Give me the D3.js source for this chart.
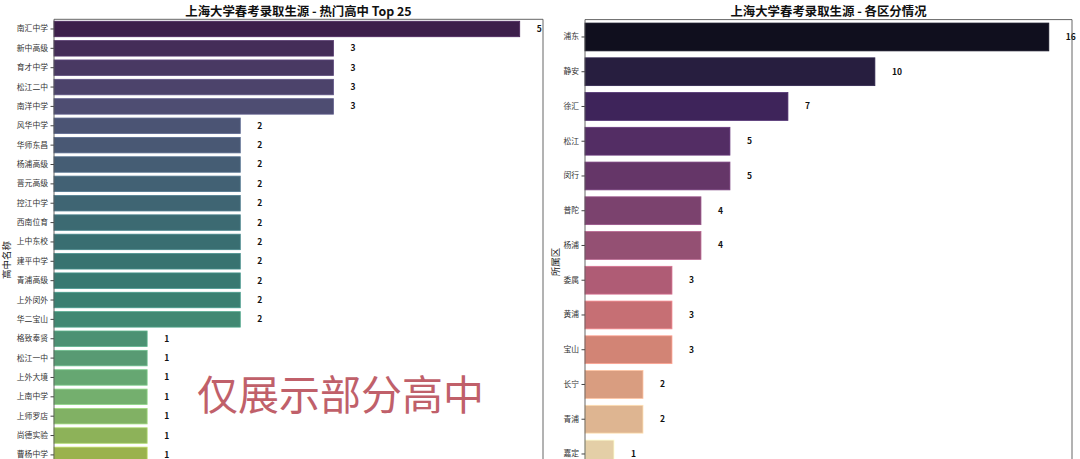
<!DOCTYPE html>
<html>
<head>
<meta charset="utf-8">
<script src="https://cdn.jsdelivr.net/npm/d3@7"></script>
<style>
  body { margin: 0; background: #fff; overflow: hidden; }
  svg { display: block; font-family: "Noto Sans CJK SC", "Noto Sans", sans-serif; }
</style>
</head>
<body>
<svg id="chart"></svg>
<script>
// left panel: top high schools (only the part visible in the picture)
const schools = ["南汇中学", "新中高级", "育才中学", "松江二中", "南洋中学", "风华中学", "华师东昌",
  "杨浦高级", "晋元高级", "控江中学", "西南位育", "上中东校", "建平中学", "青浦高级", "上外闵外",
  "华二宝山", "格致奉贤", "松江一中", "上外大境", "上南中学", "上师罗店", "尚德实验", "曹杨中学"];
const schoolCounts = [5, 3, 3, 3, 3, 2, 2, 2, 2, 2, 2, 2, 2, 2, 2, 2, 1, 1, 1, 1, 1, 1, 1];

// right panel: districts
const districts = ["浦东", "静安", "徐汇", "松江", "闵行", "普陀", "杨浦", "委属", "黄浦", "宝山", "长宁", "青浦", "嘉定"];
const districtCounts = [16, 10, 7, 5, 5, 4, 4, 3, 3, 3, 2, 2, 1];

const W = 1080, H = 459;
const svg = d3.select("#chart").attr("width", W).attr("height", H);

// seaborn style palette: sample colormap, then desaturate
function palette(interp, n) {
  return d3.range(n).map(i => {
    const c = d3.hsl(interp((i + 1) / (n + 1)));
    c.s *= 0.55;
    c.l *= 0.96;
    return c.formatHex();
  });
}

function panel(opt) {
  const g = svg.append("g");
  const x = d3.scaleLinear().domain([0, opt.xmax]).range([opt.left, opt.right]);
  const y = d3.scaleBand().domain(opt.names).range([opt.top, opt.top + opt.names.length * opt.step])
    .paddingInner(0.2).paddingOuter(0.1);
  const colors = palette(opt.interp, opt.nColors);

  g.selectAll("rect.bar")
    .data(opt.names)
    .enter()
    .append("rect")
    .attr("class", "bar")
    .attr("x", x(0))
    .attr("y", d => y(d))
    .attr("width", (d, i) => x(opt.values[i]) - x(0))
    .attr("height", y.bandwidth())
    .attr("fill", (d, i) => colors[i])
    .attr("stroke", (d, i) => d3.color(colors[i]).brighter(0.6))
    .attr("stroke-width", 0.8);

  g.selectAll("text.val")
    .data(opt.names)
    .enter()
    .append("text")
    .attr("class", "val")
    .attr("x", (d, i) => x(opt.values[i]) + 17)
    .attr("y", d => y(d) + y.bandwidth() / 2)
    .attr("dy", "0.35em")
    .attr("font-size", 8.5)
    .attr("font-weight", "bold")
    .attr("fill", "#111")
    .text((d, i) => opt.values[i]);

  const yAxis = d3.axisLeft(y).tickSize(3.5).tickPadding(2.5);
  const ax = g.append("g")
    .attr("transform", `translate(${opt.left},0)`)
    .call(yAxis);
  ax.select(".domain").remove();
  ax.selectAll("text").attr("font-size", 7.8).attr("fill", "#333")
    .attr("font-family", "'Noto Sans CJK SC', sans-serif");
  ax.selectAll("line").attr("stroke", "#444");

  // frame
  const bottom = opt.top + opt.names.length * opt.step + 40;
  g.append("path")
    .attr("d", `M${opt.left},${bottom}V${opt.top}H${opt.right}V${bottom}`)
    .attr("fill", "none")
    .attr("stroke", "#555")
    .attr("stroke-width", 0.9);

  g.append("text")
    .attr("x", (opt.left + opt.right) / 2)
    .attr("y", 15.5)
    .attr("text-anchor", "middle")
    .attr("font-size", 12.4)
    .attr("font-weight", "bold")
    .attr("fill", "#111")
    .text(opt.title);

  g.append("text")
    .attr("transform", `translate(${opt.ylabelX},${opt.ylabelY}) rotate(-90)`)
    .attr("text-anchor", "middle")
    .attr("font-size", 9.5)
    .attr("fill", "#222")
    .text(opt.ylabel);
}

panel({
  names: schools, values: schoolCounts, xmax: 5.25, nColors: 25,
  interp: d3.interpolateViridis,
  left: 54, right: 543, top: 19.3, step: 19.36,
  title: "上海大学春考录取生源 - 热门高中 Top 25",
  ylabel: "高中名称", ylabelX: 10, ylabelY: 260
});

panel({
  names: districts, values: districtCounts, xmax: 16.8, nColors: 13,
  interp: d3.interpolateMagma,
  left: 585, right: 1072, top: 19.6, step: 34.75,
  title: "上海大学春考录取生源 - 各区分情况",
  ylabel: "所属区", ylabelX: 559, ylabelY: 262
});

// overlay note from the original picture
svg.append("text")
  .attr("x", 197)
  .attr("y", 410)
  .attr("font-size", 41)
  .attr("fill", "#c0606a")
  .attr("font-family", "'Noto Sans CJK SC', sans-serif")
  .text("仅展示部分高中");
</script>
</body>
</html>
